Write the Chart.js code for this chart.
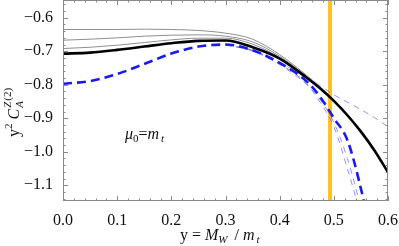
<!DOCTYPE html>
<html>
<head>
<meta charset="utf-8">
<script src="https://cdn.jsdelivr.net/npm/chart.js@4/dist/chart.umd.min.js"></script>
<style>
  html, body { margin: 0; padding: 0; background: #fff; }
  #wrap { width: 399px; height: 246px; position: relative; }
</style>
</head>
<body>
<div id="wrap"><canvas id="c" width="399" height="246"></canvas></div>
<script>
// ---- data ----
const xValues   = [0, 0.05, 0.1, 0.15, 0.2, 0.25, 0.3, 0.35, 0.4, 0.45, 0.475, 0.5, 0.525, 0.55, 0.575, 0.6];
const blackValues = [-0.707, -0.704, -0.696, -0.686, -0.676, -0.669, -0.668, -0.688, -0.722, -0.779, -0.811, -0.848, -0.891, -0.940, -0.996, -1.061];
const blueValues  = [-0.797, -0.789, -0.768, -0.738, -0.707, -0.686, -0.680, -0.697, -0.735, -0.790, -0.837, -0.900, -0.965, -1.110, -1.300, null];
const lightBlue1  = [null, null, null, null, null, null, -0.681, -0.697, -0.733, -0.780, -0.803, -0.830, -0.852, -0.874, -0.898, -0.925];
const lightBlue2  = [null, null, null, null, null, null, -0.681, -0.698, -0.738, -0.797, -0.853, -0.925, -1.050, -1.190, null, null];
const lightBlue3  = [null, null, null, null, null, null, -0.681, -0.699, -0.740, -0.800, -0.845, -0.912, -1.020, -1.165, null, null];
const gray1 = [-0.635, -0.635, -0.635, -0.634, -0.635, -0.638, -0.646, -0.664, -0.710, -0.772, -0.807, -0.845, -0.888, -0.938, -0.994, -1.059];
const gray2 = [-0.667, -0.664, -0.660, -0.655, -0.652, -0.651, -0.655, -0.672, -0.715, -0.775, -0.809, -0.846, -0.889, -0.939, -0.995, -1.060];
const gray3 = [-0.692, -0.688, -0.682, -0.674, -0.666, -0.661, -0.661, -0.679, -0.719, -0.777, -0.810, -0.847, -0.890, -0.939, -0.995, -1.060];
const markerX = 0.493;               // vertical yellow line (M_W / m_t)
const xTicks = [0, 0.1, 0.2, 0.3, 0.4, 0.5, 0.6];
const yTicks = [-1.1, -1.0, -0.9, -0.8, -0.7, -0.6];
const xRange = [0, 0.6];
const yRange = [-1.147, -0.547];

const pts = arr => xValues.map((x, i) => ({ x: x, y: arr[i] }));
const SERIF = '"Liberation Serif", "DejaVu Serif", serif';

function drawRich(ctx, parts, x, y) {
  let cx = x;
  for (const p of parts) {
    ctx.font = p.f;
    ctx.fillText(p.t, cx, y + (p.dy || 0));
    const w = ctx.measureText(p.t).width;
    if (!p.hold) cx += w + (p.gap || 0);
  }
}

const framePlugin = {
  id: 'frame',
  afterDatasetsDraw(chart) {
    const ctx = chart.ctx, a = chart.chartArea;
    const xs = chart.scales.x, ys = chart.scales.y;
    ctx.save();
    ctx.strokeStyle = '#8a8a8a';
    ctx.lineWidth = 1;
    ctx.strokeRect(a.left + 0.5, a.top + 0.5, a.right - a.left - 1, a.bottom - a.top - 1);
    ctx.beginPath();
    for (let k = 0; k <= 30; k++) {
      const v = k * 0.02;
      const px = Math.round(xs.getPixelForValue(v)) + 0.5;
      const len = (k % 5 === 0) ? 5 : 2.5;
      ctx.moveTo(px, a.bottom); ctx.lineTo(px, a.bottom - len);
      ctx.moveTo(px, a.top); ctx.lineTo(px, a.top + len);
    }
    for (let k = -57; k <= -28; k++) {
      const v = k * 0.02;
      if (v < yRange[0] || v > yRange[1]) continue;
      const py = Math.round(ys.getPixelForValue(v)) + 0.5;
      const len = (k % 5 === 0) ? 5 : 2.5;
      ctx.moveTo(a.left, py); ctx.lineTo(a.left + len, py);
      ctx.moveTo(a.right, py); ctx.lineTo(a.right - len, py);
    }
    ctx.stroke();

    ctx.fillStyle = '#111';
    ctx.textBaseline = 'alphabetic';
    ctx.textAlign = 'left';
    const R = '16px ' + SERIF, I = 'italic 16px ' + SERIF;
    const s = '11px ' + SERIF, si = 'italic 11px ' + SERIF;
    drawRich(ctx, [
      { t: 'μ', f: I },
      { t: '0', f: s, dy: 3 },
      { t: '=', f: R },
      { t: 'm', f: I, gap: 2 },
      { t: 't', f: si, dy: 3 }
    ], 125, 138.5);
    drawRich(ctx, [
      { t: 'y = ', f: R },
      { t: 'M', f: I },
      { t: 'W', f: si, dy: 3, gap: 3 },
      { t: ' / ', f: R },
      { t: 'm', f: I, gap: 2 },
      { t: 't', f: si, dy: 3 }
    ], 180, 240);
    ctx.translate(19, 137);
    ctx.rotate(-Math.PI / 2);
    drawRich(ctx, [
      { t: 'y', f: R },
      { t: '2', f: s, dy: -7, gap: 4 },
      { t: 'C', f: I, gap: 1 },
      { t: 'A', f: si, dy: 4, hold: true },
      { t: 'Z', f: si, dy: -8, gap: 1 },
      { t: '(2)', f: s, dy: -8 }
    ], 0, 0);
    ctx.restore();
  }
};

const thin = { pointRadius: 0, fill: false, cubicInterpolationMode: 'monotone', spanGaps: false };

new Chart(document.getElementById('c'), {
  type: 'line',
  data: {
    datasets: [
      Object.assign({ label: 'black', data: pts(blackValues), borderColor: '#000', borderWidth: 2.6 }, thin),
      Object.assign({ label: 'blue', data: pts(blueValues), borderColor: '#1a1aee', borderWidth: 2.6, borderDash: [9, 5] }, thin),
      Object.assign({ label: 'lb1', data: pts(lightBlue1), borderColor: 'rgba(110,110,255,0.75)', borderWidth: 1, borderDash: [6, 5] }, thin),
      Object.assign({ label: 'lb2', data: pts(lightBlue2), borderColor: 'rgba(110,110,255,0.75)', borderWidth: 1, borderDash: [6, 5] }, thin),
      Object.assign({ label: 'lb3', data: pts(lightBlue3), borderColor: 'rgba(110,110,255,0.75)', borderWidth: 1, borderDash: [6, 5] }, thin),
      Object.assign({ label: 'g1', data: pts(gray1), borderColor: '#8f8f8f', borderWidth: 1 }, thin),
      Object.assign({ label: 'g2', data: pts(gray2), borderColor: '#8f8f8f', borderWidth: 1 }, thin),
      Object.assign({ label: 'g3', data: pts(gray3), borderColor: '#8f8f8f', borderWidth: 1 }, thin),
      { label: 'marker', data: [{ x: markerX, y: -1.3 }, { x: markerX, y: -0.4 }], borderColor: '#FFC11E', borderWidth: 4, pointRadius: 0 }
    ]
  },
  options: {
    responsive: false,
    animation: false,
    events: [],
    layout: { padding: { left: 0, right: 11, top: 0, bottom: 0 } },
    plugins: { legend: { display: false }, tooltip: { enabled: false } },
    scales: {
      x: {
        type: 'linear', min: xRange[0], max: xRange[1],
        grid: { display: false }, border: { display: false },
        afterBuildTicks: sc => { sc.ticks = xTicks.map(v => ({ value: v })); },
        afterFit: sc => { sc.height = 45; sc.paddingLeft = 0; sc.paddingRight = 0; },
        ticks: {
          padding: 2, color: '#111', maxRotation: 0, autoSkip: false,
          font: { family: SERIF, size: 16 },
          callback: v => v.toFixed(1)
        }
      },
      y: {
        type: 'linear', min: yRange[0], max: yRange[1],
        grid: { display: false }, border: { display: false },
        afterBuildTicks: sc => { sc.ticks = yTicks.map(v => ({ value: v })); },
        afterFit: sc => { sc.width = 63; sc.paddingTop = 0; sc.paddingBottom = 0; },
        ticks: {
          padding: 2, color: '#111', autoSkip: false,
          font: { family: SERIF, size: 16 },
          callback: v => (v < 0 ? '\u2212' : '') + Math.abs(v).toFixed(1)
        }
      }
    }
  },
  plugins: [framePlugin]
});
</script>
</body>
</html>
